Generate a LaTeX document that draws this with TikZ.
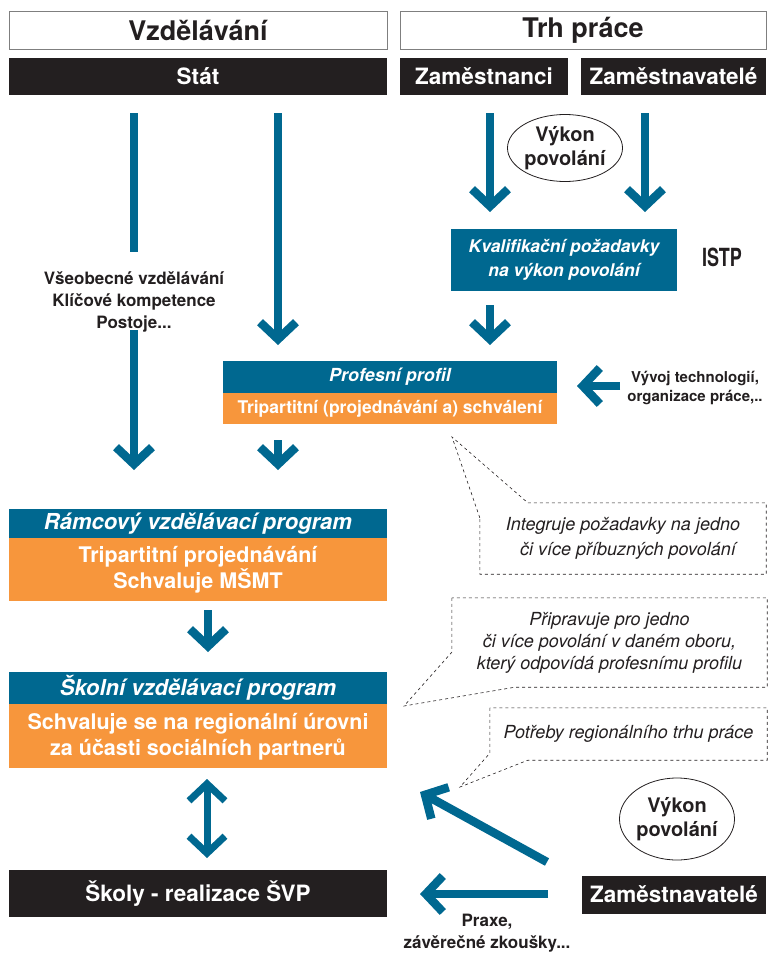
\documentclass[tikz,border=0pt]{standalone}
\usepackage{fontspec}
\setmainfont{TeX Gyre Heros}
\newfontfamily\condfont[FakeStretch=0.72]{TeX Gyre Heros}
\usepackage{xcolor}
\usepackage{tikz}
\usetikzlibrary{arrows.meta,positioning,calc,shapes.geometric}
\definecolor{ink}{HTML}{231F20}
\definecolor{petrol}{HTML}{006890}
\definecolor{amber}{HTML}{F7963C}
\definecolor{rule}{HTML}{7F7F7F}
\tikzset{
  hdrbox/.style={draw=rule, line width=0.8pt, minimum height=38pt, text=ink, font=\bfseries\fontsize{27}{30}\selectfont},
  blackbox/.style={fill=ink, minimum height=37pt, text=white, font=\bfseries\fontsize{22.5}{24}\selectfont},
  tealbar/.style={fill=petrol, text=white, inner sep=0pt, align=center},
  orangebar/.style={fill=amber, text=white, inner sep=0pt, align=center},
  note/.style={text=ink, align=center, font=\bfseries\fontsize{17}{22}\selectfont},
  callnote/.style={text=ink, align=center, inner sep=0pt, font=\itshape\fontsize{18}{22}\selectfont},
  callout/.style={draw=ink, dashed, line width=0.6pt},
  oval/.style={ellipse, draw=ink, line width=0.8pt, inner sep=0pt, align=center, text=ink, font=\bfseries\fontsize{20}{24}\selectfont},
  barb/.tip={Straight Barb[length=17pt, width=36pt, line cap=butt, line join=miter]},
  shaft/.style={draw=petrol, line width=8.5pt},
  flowarr/.style={shaft, -barb}
}

\begin{document}
\begin{tikzpicture}[x=1pt, y=-1pt]
  \useasboundingbox (0,0) rectangle (769,956);

  % headers
  \node[hdrbox, minimum width=378pt] (edu) at (198,30) {Vzdělávání};
  \node[hdrbox, minimum width=366pt] (trh) at (583,30) {Trh práce};
  \node[blackbox, minimum width=378pt] (stat) at (198,76.5) {Stát};
  \node[blackbox, minimum width=168pt] (zamci) at (484,76.5) {Zaměstnanci};
  \node[blackbox, minimum width=185pt] (zamtel) at (673.5,76.5) {Zaměstnavatelé};

  % labour market side
  \node[oval, minimum width=104pt, minimum height=67pt] (vykon) at (565,148) {Výkon\\povolání};
  \node[tealbar, minimum width=226pt, minimum height=62pt,
        font=\bfseries\itshape\fontsize{17.5}{24}\selectfont] (kval) at (564,260)
        {Kvalifikační požadavky\\na výkon povolání};
  \node[text=ink, font=\condfont\bfseries\fontsize{25}{28}\selectfont] (istp) at (722,257) {ISTP};

  % profile
  \node[tealbar, minimum width=334pt, minimum height=32pt,
        font=\bfseries\itshape\fontsize{18}{20}\selectfont] (prof) at (390,377) {Profesní profil};
  \node[orangebar, minimum width=334pt, minimum height=31pt, below=0pt of prof,
        font=\bfseries\fontsize{17.5}{20}\selectfont] (profsch) {Tripartitní (projednávání a) schválení};
  \node[note, font=\bfseries\fontsize{15}{19}\selectfont] (vyvoj) at (695,388)
        {Vývoj technologií,\\organizace práce,..};

  % education side
  \node[note] (vseob) at (134,302) {Všeobecné vzdělávání\\Klíčové kompetence\\Postoje...};
  \node[tealbar, minimum width=378pt, minimum height=29pt,
        font=\bfseries\itshape\fontsize{22}{24}\selectfont] (rvp) at (198,523.5) {Rámcový vzdělávací program};
  \node[orangebar, minimum width=378pt, minimum height=63pt, below=0pt of rvp,
        font=\bfseries\fontsize{21.5}{26}\selectfont] (rvpsch) {Tripartitní projednávání\\Schvaluje MŠMT};
  \node[tealbar, minimum width=378pt, minimum height=32pt,
        font=\bfseries\itshape\fontsize{22}{24}\selectfont] (svp) at (198,688) {Školní vzdělávací program};
  \node[orangebar, minimum width=378pt, minimum height=64pt, below=0pt of svp,
        font=\bfseries\fontsize{21.5}{26}\selectfont] (svpsch)
        {Schvaluje se na regionální úrovni\\za účasti sociálních partnerů};
  \node[blackbox, minimum width=378pt, minimum height=47pt] (skoly) at (198,893.5) {Školy - realizace ŠVP};

  % employers at the bottom
  \node[oval, minimum width=110pt, minimum height=82pt] (vykon2) at (677,819) {Výkon\\povolání};
  \node[blackbox, minimum width=184pt, minimum height=38pt] (zamtel2) at (674,894.5) {Zaměstnavatelé};
  \node[note] (praxe) at (487,933) {Praxe,\\závěrečné zkoušky...};

  % dashed callouts
  \node[callnote, minimum width=286pt, minimum height=71pt, font=\itshape\fontsize{18}{25}\selectfont]
        (integ) at (623,538.5) {Integruje požadavky na jedno\\\ \ či více příbuzných povolání};
  \coordinate (integtip) at (452,437);
  \draw[callout] ($(integ.north west)+(0,15)$) -- (integtip) -- ($(integ.north west)+(48,0)$)
    -- (integ.north east) -- (integ.south east) -- (integ.south west) -- cycle;

  \node[callnote, minimum width=315pt, minimum height=89pt] (pripr) at (609.5,642.5)
        {Připravuje pro jedno\\či více povolání v daném oboru,\\který odpovídá profesnímu profilu};
  \coordinate (priprtip) at (404,706);
  \draw[callout] (pripr.north west) -- ($(pripr.south west)+(0,-35)$) -- (priprtip)
    -- ($(pripr.south west)+(63,0)$) -- (pripr.south east) -- (pripr.north east) -- cycle;

  \node[callnote, minimum width=277pt, minimum height=52pt] (potr) at (628.5,734)
        {Potřeby regionálního trhu práce};
  \coordinate (potrtip) at (460,787);
  \draw[callout] (potr.north west) -- ($(potr.south west)+(0,-7)$) -- (potrtip)
    -- ($(potr.south west)+(38,0)$) -- (potr.south east) -- (potr.north east) -- cycle;

  % arrow ends
  \coordinate (a1) at (134,113); \coordinate (a2) at (134,252);
  \coordinate (a3) at (134,330); \coordinate (a4) at (134,470);
  \coordinate (b1) at (278,113); \coordinate (b2) at (278,345);
  \coordinate (b3) at (278,440); \coordinate (b4) at (278,470);
  \coordinate (c1) at (490,113); \coordinate (c2) at (490,212);
  \coordinate (d1) at (645,113); \coordinate (d2) at (645,212);
  \coordinate (c3) at (490,305); \coordinate (c4) at (490,345);
  \coordinate (e1) at (620,386); \coordinate (e2) at (577,386);
  \coordinate (f1) at (208,610); \coordinate (f2) at (208,652);
  \coordinate (g1) at (207,779); \coordinate (g2) at (207,858);
  \coordinate (h1) at (547,862); \coordinate (h2) at (420,792);
  \coordinate (k1) at (548,894); \coordinate (k2) at (420,894);

  \draw[shaft] (a1) -- (a2);
  \draw[flowarr] (a3) -- (a4);
  \draw[flowarr] (b1) -- (b2);
  \draw[flowarr] (b3) -- (b4);
  \draw[flowarr] (c1) -- (c2);
  \draw[flowarr] (d1) -- (d2);
  \draw[flowarr] (c3) -- (c4);
  \draw[flowarr] (e1) -- (e2);
  \draw[flowarr] (f1) -- (f2);
  \draw[shaft, line width=7pt, barb-barb] (g1) -- (g2);
  \draw[flowarr] (h1) -- (h2);
  \draw[flowarr] (k1) -- (k2);
\end{tikzpicture}
\end{document}
